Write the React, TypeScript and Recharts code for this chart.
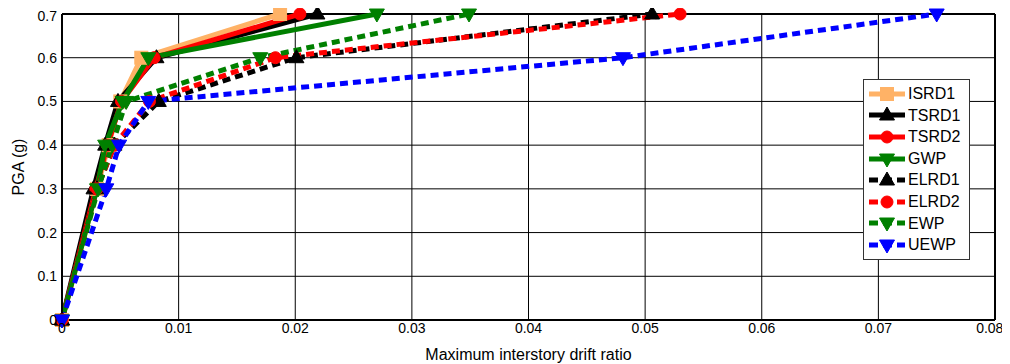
import React from 'react';
import { LineChart, Line, XAxis, YAxis, CartesianGrid, ReferenceLine, Label } from 'recharts';

// PGA levels (g) shared by every series
const pgaLevels = [0, 0.3, 0.4, 0.5, 0.6, 0.7];

// Maximum interstory drift ratio per series at each PGA level
const isrd1 = [0, 0.003, 0.004, 0.005, 0.0068, 0.0187];
const tsrd1 = [0, 0.0027, 0.0037, 0.0048, 0.0081, 0.0219];
const tsrd2 = [0, 0.0029, 0.0039, 0.0051, 0.0079, 0.0204];
const gwp = [0, 0.003, 0.0037, 0.0052, 0.0074, 0.027];
const elrd1 = [0, 0.003, 0.0045, 0.0083, 0.0201, 0.0506];
const elrd2 = [0, 0.003, 0.0045, 0.0075, 0.0183, 0.053];
const ewp = [0, 0.0031, 0.0043, 0.0055, 0.017, 0.0349];
const uewp = [0, 0.0038, 0.0049, 0.0074, 0.0481, 0.075];

const seriesNames = ['ISRD1', 'TSRD1', 'TSRD2', 'GWP', 'ELRD1', 'ELRD2', 'EWP', 'UEWP'];

const xTicks = [0, 0.01, 0.02, 0.03, 0.04, 0.05, 0.06, 0.07, 0.08];
const xTickLabels = ['0', '0.01', '0.02', '0.03', '0.04', '0.05', '0.06', '0.07', '0.08'];
const yTicks = [0, 0.1, 0.2, 0.3, 0.4, 0.5, 0.6, 0.7];
const yTickLabels = ['0', '0.1', '0.2', '0.3', '0.4', '0.5', '0.6', '0.7'];

type Shape = 'square' | 'up' | 'down' | 'circle';

const seriesStyle: { color: string; dashed: boolean; shape: Shape }[] = [
  { color: '#FFB266', dashed: false, shape: 'square' },
  { color: '#000000', dashed: false, shape: 'up' },
  { color: '#FF0000', dashed: false, shape: 'circle' },
  { color: '#008000', dashed: false, shape: 'down' },
  { color: '#000000', dashed: true, shape: 'up' },
  { color: '#FF0000', dashed: true, shape: 'circle' },
  { color: '#008000', dashed: true, shape: 'down' },
  { color: '#0000FF', dashed: true, shape: 'down' },
];

const seriesDrift = [isrd1, tsrd1, tsrd2, gwp, elrd1, elrd2, ewp, uewp];

const toData = (drift: number[]) => drift.map((x, i) => ({ x, y: pgaLevels[i] }));

function Marker({ cx, cy, shape, color }: { cx: number; cy: number; shape: Shape; color: string }) {
  if (cx == null || cy == null || isNaN(cx) || isNaN(cy)) return null;
  if (shape === 'square') {
    return <rect x={cx - 6.5} y={cy - 6.5} width={13} height={13} fill={color} stroke={color} />;
  }
  if (shape === 'circle') {
    return <circle cx={cx} cy={cy} r={6} fill={color} stroke={color} />;
  }
  if (shape === 'up') {
    return (
      <polygon
        points={`${cx},${cy - 8} ${cx - 7.5},${cy + 5} ${cx + 7.5},${cy + 5}`}
        fill={color}
        stroke={color}
      />
    );
  }
  return (
    <polygon
      points={`${cx},${cy + 8} ${cx - 7.5},${cy - 5} ${cx + 7.5},${cy - 5}`}
      fill={color}
      stroke={color}
    />
  );
}

function LegendBox() {
  return (
    <div
      style={{
        position: 'absolute',
        left: 855,
        top: 71,
        width: 107,
        background: '#fff',
        border: '1px solid #333',
        padding: '3px 0 3px 4px',
        fontFamily: '"Liberation Sans", Arial, sans-serif',
        fontSize: 16,
        lineHeight: '21.6px',
        boxSizing: 'border-box',
      }}
    >
      {seriesNames.map((name, i) => {
        const st = seriesStyle[i];
        return (
          <div key={name} style={{ display: 'flex', alignItems: 'center', height: 21.6 }}>
            <svg width={38} height={18} style={{ flex: 'none' }}>
              <line
                x1={1}
                y1={9}
                x2={37}
                y2={9}
                stroke={st.color}
                strokeWidth={5}
                strokeDasharray={st.dashed ? '9 5' : undefined}
              />
              <Marker cx={19} cy={9} shape={st.shape} color={st.color} />
            </svg>
            <span style={{ marginLeft: 2, color: '#000' }}>{name}</span>
          </div>
        );
      })}
    </div>
  );
}

export default function App() {
  const font = '"Liberation Sans", Arial, sans-serif';
  return (
    <div style={{ position: 'relative', width: 994, height: 356, fontFamily: font }}>
      <LineChart width={994} height={356} margin={{ top: 6, right: 7, bottom: 0, left: 0 }}>
        <CartesianGrid stroke="#000" strokeWidth={1} horizontalValues={yTicks} verticalValues={xTicks} />
        <XAxis
          type="number"
          dataKey="x"
          domain={[0, 0.08]}
          ticks={xTicks}
          height={44}
          tickSize={0}
          tickMargin={3}
          tickLine={false}
          axisLine={{ stroke: '#000', strokeWidth: 2 }}
          tick={{ fill: '#000', fontSize: 14, fontFamily: font }}
          tickFormatter={(v: number, i: number) => xTickLabels[i] ?? String(v)}
        >
          <Label
            value="Maximum interstory drift ratio"
            position="insideBottom"
            offset={4}
            style={{ fill: '#000', fontSize: 16, fontFamily: font }}
          />
        </XAxis>
        <YAxis
          type="number"
          dataKey="y"
          domain={[0, 0.7]}
          ticks={yTicks}
          width={54}
          tickSize={0}
          tickMargin={5}
          tickLine={false}
          axisLine={{ stroke: '#000', strokeWidth: 2 }}
          tick={{ fill: '#000', fontSize: 14, fontFamily: font }}
          tickFormatter={(v: number, i: number) => yTickLabels[i] ?? String(v)}
        >
          <Label
            value="PGA (g)"
            angle={-90}
            position="insideLeft"
            offset={10}
            style={{ fill: '#000', fontSize: 16, fontFamily: font, textAnchor: 'middle' }}
          />
        </YAxis>
        <ReferenceLine y={0.7} stroke="#000" strokeWidth={2} />
        <ReferenceLine x={0.08} stroke="#000" strokeWidth={2} />
        {seriesNames.map((name, i) => {
          const st = seriesStyle[i];
          return (
            <Line
              key={name}
              name={name}
              data={toData(seriesDrift[i])}
              dataKey="y"
              type="linear"
              stroke={st.color}
              strokeWidth={5}
              strokeDasharray={st.dashed ? '8 5' : undefined}
              isAnimationActive={false}
              activeDot={false}
              dot={(p: any) => (
                <Marker key={`${name}-${p.index}`} cx={p.cx} cy={p.cy} shape={st.shape} color={st.color} />
              )}
            />
          );
        })}
      </LineChart>
      <LegendBox />
    </div>
  );
}
